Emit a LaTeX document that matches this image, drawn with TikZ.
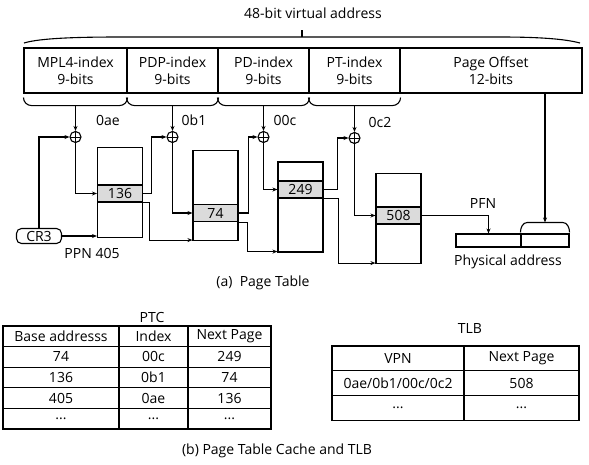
\documentclass[tikz,border=0pt]{standalone}
\usepackage{fontspec}
\setmainfont{Open Sans}
\usetikzlibrary{arrows.meta,calc}
\newcommand{\diagfont}{\fontsize{14}{17}\selectfont}

\begin{document}
\begin{tikzpicture}[x=1pt, y=-1pt, line width=1.1pt, font=\diagfont,
    field/.style={rectangle, draw, minimum height=45pt, align=center, inner sep=0pt},
    ptab/.style={rectangle, draw, minimum width=45pt, minimum height=90pt},
    prow/.style={rectangle, draw, fill=gray!28, minimum width=45pt, minimum height=17pt, inner sep=0pt},
    adder/.style={circle, draw, minimum size=11pt, inner sep=0pt,
      path picture={\draw[line width=0.7pt] (path picture bounding box.north) -- (path picture bounding box.south)
        (path picture bounding box.west) -- (path picture bounding box.east);}},
    cell/.style={rectangle, draw, inner sep=0pt},
    arr/.style={-{Stealth[length=5pt,width=4pt]}},
    lbl/.style={inner sep=1pt},
  ]
    \useasboundingbox (0,0) rectangle (589,464);

    % Virtual address
    \node[lbl] (vatitle) at (313,13) {48-bit virtual address};
    \node[field, minimum width=103pt] (mpl) at (75.5,70.5) {MPL4-index\\9-bits};
    \node[field, minimum width=91pt] (pdp) at (172.5,70.5) {PDP-index\\9-bits};
    \node[field, minimum width=91pt] (pd) at (263.5,70.5) {PD-index\\9-bits};
    \node[field, minimum width=91pt] (pt) at (354.5,70.5) {PT-index\\9-bits};
    \node[field, minimum width=182pt] (off) at (491,70.5) {Page Offset\\12-bits};

    % Top brace
    \draw (24,43) .. controls (40,38) and (80,37) .. (120,37) -- (500,37)
      .. controls (540,37) and (565,39) .. (580,43);
    \draw (302,37) -- (302,30);

    % Index braces
    \draw ([yshift=-4pt]mpl.south west) to[out=-90,in=180] ([shift={(8pt,-12pt)}]mpl.south west)
      -- ([shift={(-8pt,-12pt)}]mpl.south east) to[out=0,in=-90] ([yshift=-4pt]mpl.south east);
    \draw ([yshift=-4pt]pdp.south west) to[out=-90,in=180] ([shift={(8pt,-12pt)}]pdp.south west)
      -- ([shift={(-8pt,-12pt)}]pdp.south east) to[out=0,in=-90] ([yshift=-4pt]pdp.south east);
    \draw ([yshift=-4pt]pd.south west) to[out=-90,in=180] ([shift={(8pt,-12pt)}]pd.south west)
      -- ([shift={(-8pt,-12pt)}]pd.south east) to[out=0,in=-90] ([yshift=-4pt]pd.south east);
    \draw ([yshift=-4pt]pt.south west) to[out=-90,in=180] ([shift={(8pt,-12pt)}]pt.south west)
      -- ([shift={(-8pt,-12pt)}]pt.south east) to[out=0,in=-90] ([yshift=-4pt]pt.south east);

    % Adders
    \node[adder] (add1) at (mpl.south |- 0,137) {};
    \node[adder] (add2) at (pdp.south |- 0,137) {};
    \node[adder] (add3) at (pd.south |- 0,137) {};
    \node[adder] (add4) at (pt.south |- 0,138) {};
    \draw[arr] ([yshift=-12pt]mpl.south) -- (add1.north);
    \draw[arr] ([yshift=-12pt]pdp.south) -- (add2.north);
    \draw[arr] ([yshift=-12pt]pd.south) -- (add3.north);
    \draw[arr] ([yshift=-12pt]pt.south) -- (add4.north);
    \node[lbl] (i1) at (108,120) {0ae};
    \node[lbl] (i2) at (194,120) {0b1};
    \node[lbl] (i3) at (285,120) {00c};
    \node[lbl] (i4) at (380,122) {0c2};

    % Page table levels
    \node[ptab] (tab1) at (120,192.5) {};
    \node[prow] (row1) at (120,193.5) {136};
    \node[ptab] (tab2) at (215.5,195.5) {};
    \node[prow] (row2) at (215.5,213) {74};
    \node[ptab] (tab3) at (300.5,207) {};
    \node[prow] (row3) at (300.5,189.5) {249};
    \node[ptab] (tab4) at (398.5,218.5) {};
    \node[prow] (row4) at (398.5,215.5) {508};

    \node[draw, rounded corners=5pt, minimum width=45pt, minimum height=15pt, inner sep=0pt] (cr3) at (39,236) {CR3};
    \node[lbl] (ppn) at (92,253) {PPN 405};

    % Walk
    \draw[arr] (cr3.north) |- (add1.west);
    \draw[arr] (cr3.east) -- (cr3.east -| tab1.west);
    \draw[arr] (add1.south) |- (row1.west);
    \draw[arr] (row1.east) -- ++(8,0) |- (add2.west);
    \draw[arr] (row1.south east) -- ++(6,0) |- ([yshift=1pt]tab2.south west);
    \draw[arr] (add2.south) |- (row2.west);
    \draw[arr] (row2.east) -- ++(10,0) |- (add3.west);
    \draw[arr] (row2.south east) -- ++(9,0) |- ([yshift=1pt]tab3.south west);
    \draw[arr] (add3.south) |- (row3.west);
    \draw[arr] (row3.east) -- ++(14,0) |- (add4.west);
    \draw[arr] (row3.south east) -- ++(15,0) |- ([yshift=1pt]tab4.south west);
    \draw[arr] (add4.south) |- (row4.west);

    % Physical address
    \node[rectangle, draw, minimum width=65pt, minimum height=13pt] (phl) at (488.5,240.5) {};
    \node[rectangle, draw, minimum width=48pt, minimum height=13pt] (phr) at (545,240.5) {};
    \node[lbl] (pfn) at (483,203) {PFN};
    \node[lbl] (phys) at (508,262) {Physical address};
    \draw[arr] (row4.east) -| (phl.north);
    \draw ([shift={(0pt,1pt)}]phr.north west) to[out=90,in=180] ([shift={(7pt,11pt)}]phr.north west)
      -- ([shift={(-7pt,11pt)}]phr.north east) to[out=0,in=90] ([shift={(0pt,1pt)}]phr.north east);
    \draw[arr] (phr.north |- off.south) -- ([yshift=11pt]phr.north);

    \node[lbl] (capa) at (263,283) {(a)\ \ Page Table};

    % PTC
    \node[lbl] (ptctitle) at (152,317) {PTC};
    \node[cell, minimum width=116pt, minimum height=20.6pt] (p11) at (61,336.3) {Base addresss};
    \node[cell, minimum width=69pt, minimum height=20.6pt] (p12) at (153.5,336.3) {Index};
    \node[cell, minimum width=83pt, minimum height=20.6pt] (p13) at (229.5,336.3) {Next Page};
    \node[cell, minimum width=116pt, minimum height=20.6pt] (p21) at (61,356.9) {74};
    \node[cell, minimum width=69pt, minimum height=20.6pt] (p22) at (153.5,356.9) {00c};
    \node[cell, minimum width=83pt, minimum height=20.6pt] (p23) at (229.5,356.9) {249};
    \node[cell, minimum width=116pt, minimum height=20.6pt] (p31) at (61,377.5) {136};
    \node[cell, minimum width=69pt, minimum height=20.6pt] (p32) at (153.5,377.5) {0b1};
    \node[cell, minimum width=83pt, minimum height=20.6pt] (p33) at (229.5,377.5) {74};
    \node[cell, minimum width=116pt, minimum height=20.6pt] (p41) at (61,398.1) {405};
    \node[cell, minimum width=69pt, minimum height=20.6pt] (p42) at (153.5,398.1) {0ae};
    \node[cell, minimum width=83pt, minimum height=20.6pt] (p43) at (229.5,398.1) {136};
    \node[cell, minimum width=116pt, minimum height=20.6pt] (p51) at (61,418.7) {...};
    \node[cell, minimum width=69pt, minimum height=20.6pt] (p52) at (153.5,418.7) {...};
    \node[cell, minimum width=83pt, minimum height=20.6pt] (p53) at (229.5,418.7) {...};

    % TLB
    \node[lbl] (tlbtitle) at (470,328) {TLB};
    \node[cell, minimum width=132pt, minimum height=24.7pt] (t11) at (398,358.3) {VPN};
    \node[cell, minimum width=115pt, minimum height=24.7pt] (t12) at (521.5,358.3) {Next Page};
    \node[cell, minimum width=132pt, minimum height=24.7pt] (t21) at (398,383) {0ae/0b1/00c/0c2};
    \node[cell, minimum width=115pt, minimum height=24.7pt] (t22) at (521.5,383) {508};
    \node[cell, minimum width=132pt, minimum height=24.7pt] (t31) at (398,407.7) {...};
    \node[cell, minimum width=115pt, minimum height=24.7pt] (t32) at (521.5,407.7) {...};

    \node[lbl] (capb) at (277,451) {(b) Page Table Cache and TLB};
  \end{tikzpicture}
\end{document}
